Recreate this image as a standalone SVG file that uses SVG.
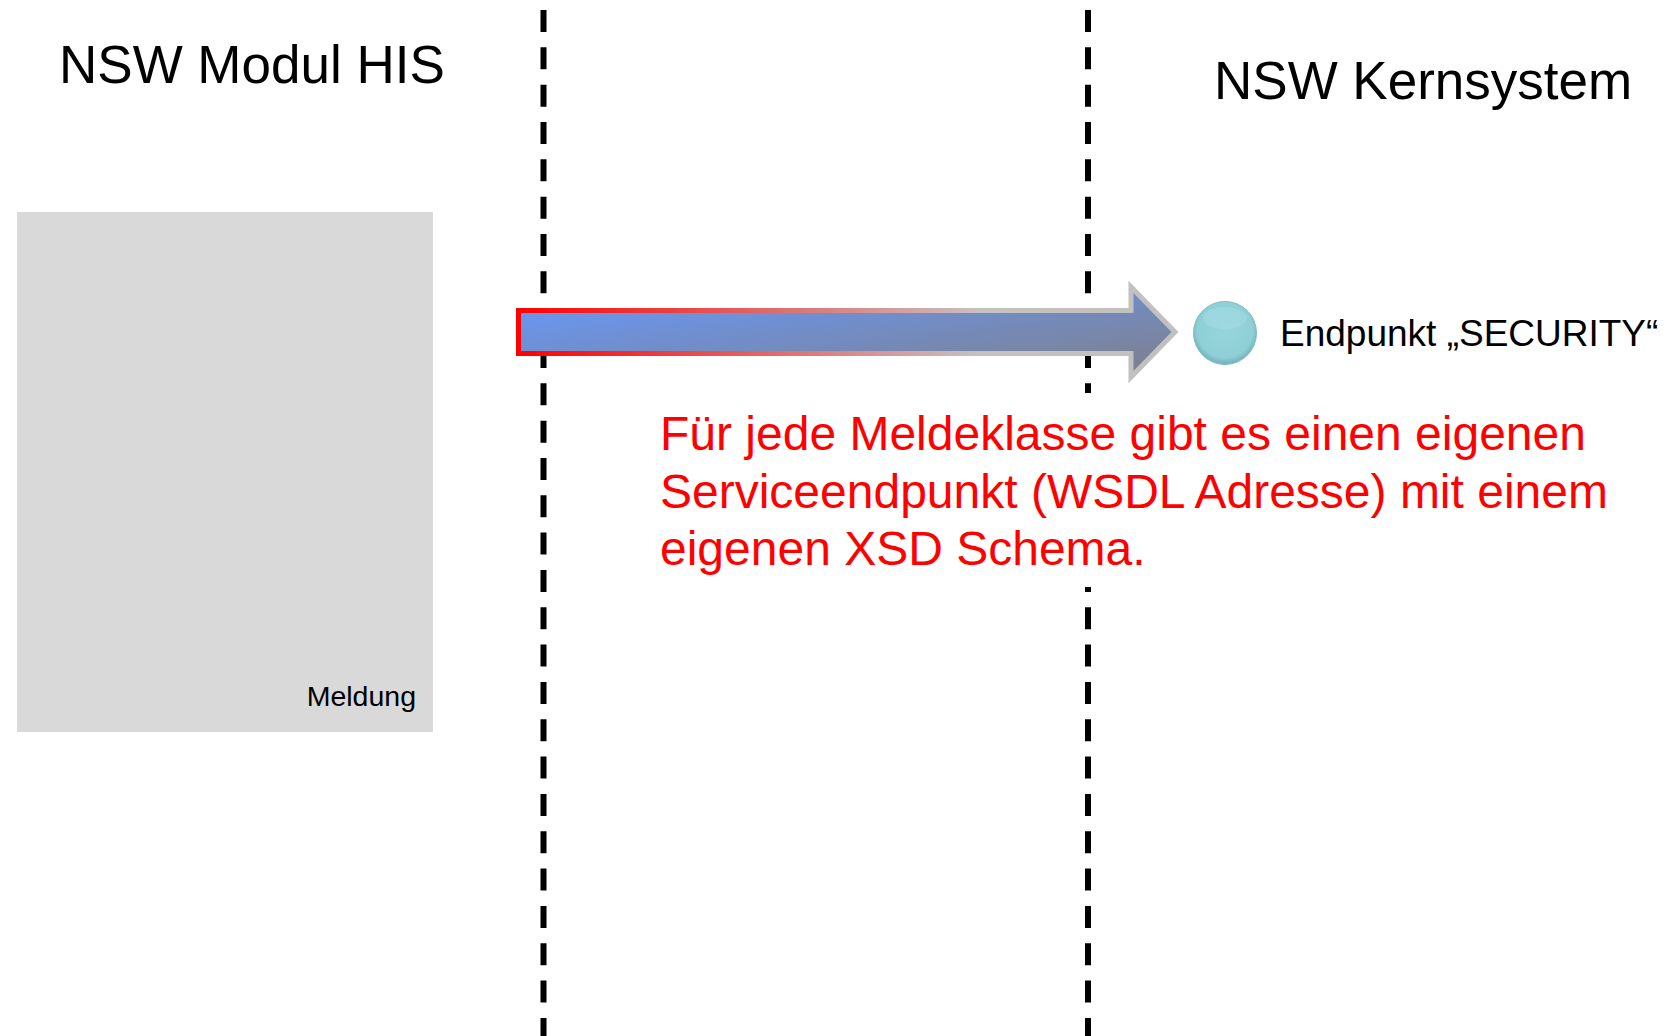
<svg xmlns="http://www.w3.org/2000/svg" width="1673" height="1036" viewBox="0 0 1673 1036">
<style>
text{font-family:"Liberation Sans",Arial,Helvetica,sans-serif;}
.title{font-size:53px;fill:#000;}
.lane{stroke:#000;stroke-width:6;stroke-dasharray:22 15.33;fill:none;}
.note{font-size:48px;fill:#ff0000;}
</style>
<defs>
<linearGradient id="arrFill" x1="0" y1="0" x2="1" y2="1" gradientUnits="objectBoundingBox">
<stop offset="0" stop-color="#6699ff"/>
<stop offset="1" stop-color="#7f7f88"/>
</linearGradient>
<linearGradient id="arrStroke" x1="516" y1="0" x2="1177" y2="0" gradientUnits="userSpaceOnUse">
<stop offset="0" stop-color="#ff0000"/>
<stop offset="0.7" stop-color="#c8c0c0"/>
<stop offset="1" stop-color="#c0c0c0"/>
</linearGradient>
<radialGradient id="ball" cx="0.5" cy="0.45" r="0.55">
<stop offset="0" stop-color="#96d5dc"/>
<stop offset="0.8" stop-color="#8fcfd6"/>
<stop offset="1" stop-color="#6fb0b8"/>
</radialGradient>
</defs>
<rect width="1673" height="1036" fill="#fff"/>
<g id="lanes">
<line class="lane" x1="543.5" y1="10" x2="543.5" y2="1036"/>
<line class="lane" x1="1088" y1="10" x2="1088" y2="1036"/>
</g>
<g id="title-his"><text class="title" x="59" y="83">NSW Modul HIS</text></g>
<g id="title-kern"><text class="title" x="1214" y="99">NSW Kernsystem</text></g>
<g id="meldung">
<rect x="17" y="212" width="416" height="520" fill="#d9d9d9"/>
<text x="416" y="706" font-size="28.5" text-anchor="end" fill="#000">Meldung</text>
</g>
<g id="connectors">
<path d="M518.5,310.5 H1131 V287 L1175,332 L1131,377 V353.5 H518.5 Z" fill="url(#arrFill)" stroke="url(#arrStroke)" stroke-width="5"/>
</g>
<g id="endpoint">
<circle cx="1225" cy="333" r="31.5" fill="url(#ball)" stroke="#7fbcc3" stroke-width="1"/>
<ellipse cx="1225" cy="318" rx="22" ry="11" fill="#a6dde3" opacity="0.5"/>
<text x="1280" y="346" font-size="37" fill="#000">Endpunkt „SECURITY“</text>
</g>
<g id="note">
<rect x="650" y="393" width="975" height="194" fill="#fff"/>
<text class="note" x="660" y="450">Für jede Meldeklasse gibt es einen eigenen</text>
<text class="note" x="660" y="508">Serviceendpunkt (WSDL Adresse) mit einem</text>
<text class="note" x="660" y="565">eigenen XSD Schema.</text>
</g>
</svg>
